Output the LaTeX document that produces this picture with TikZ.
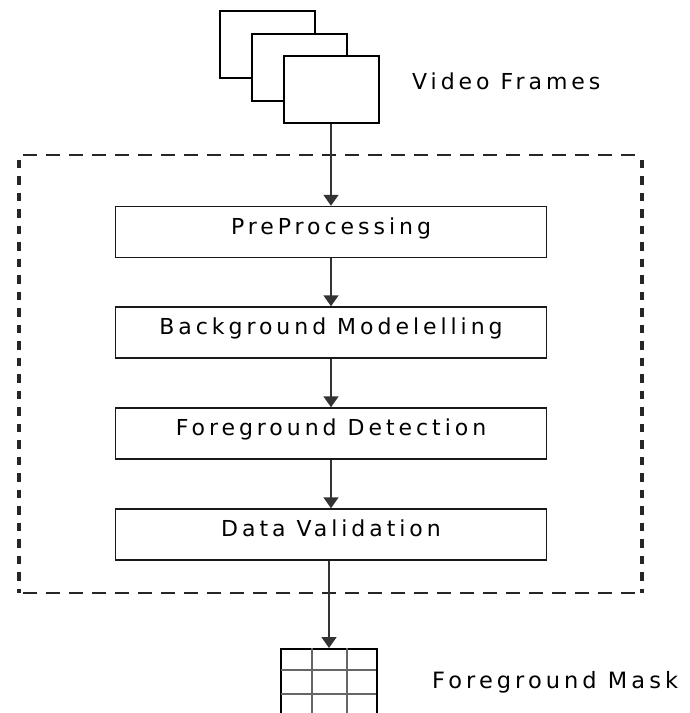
\documentclass[tikz,border=0pt]{standalone}
\usepackage{fontspec}
\setmainfont{DejaVu Sans}[LetterSpace=18]
\usetikzlibrary{arrows.meta}
\begin{document}
\begin{tikzpicture}[x=1pt,y=-1pt,
  frame/.style={draw=black,line width=2pt,fill=white,minimum width=95pt,minimum height=67pt,inner sep=0pt},
  stage/.style={draw=black!90,line width=1.5pt,fill=white,minimum width=431pt,minimum height=51pt,inner sep=0pt,
    text height=0.76em,text depth=0.36em,font=\fontsize{22}{26}\selectfont},
  label/.style={anchor=base west,inner sep=0pt,font=\fontsize{22}{26}\selectfont},
  flow/.style={draw=black!80,line width=1.8pt,-{Triangle[length=11pt,width=15pt]}},
  grouph/.style={draw=black!85,line width=2.6pt,dash pattern=on 14pt off 9pt},
  groupv/.style={draw=black!85,line width=3.4pt,dash pattern=on 8.5pt off 8pt}
]
\useasboundingbox (0,0) rectangle (689,713);
\clip (0,0) rectangle (689,713);
% video frames
\node[frame] (f1) at (267,44.5) {};
\node[frame] (f2) at (299,67.5) {};
\node[frame] (f3) at (331,89.5) {};
\node[label] (vf) at (412,89.5) {Video Frames};
% dashed group
\coordinate (gtl) at (19,155);
\coordinate (gtr) at (642,155);
\coordinate (gbl) at (19,593);
\coordinate (gbr) at (642,593);
\draw[grouph,dash phase=19pt] (gtl) -- (gtr);
\draw[grouph,dash phase=19pt] (gbl) -- (gbr);
\draw[groupv,dash phase=12pt] (gtl) -- (gbl);
\draw[groupv,dash phase=12pt] (gtr) -- (gbr);
% stages
\node[stage] (pre) at (331,232) {PreProcessing};
\node[stage] (bg) at (331,332.5) {Background Modelelling};
\node[stage] (fg) at (331,433.5) {Foreground Detection};
\node[stage] (dv) at (331,534.5) {Data Validation};
% foreground mask grid
\node[draw=black,line width=1.6pt,fill=white,minimum width=96pt,minimum height=69pt,inner sep=0pt,anchor=north] (mask) at (329,648) {};
\draw[black!60,line width=1.6pt] (312,648) -- (312,717) (347,648) -- (347,717)
  (281,670) -- (377,670) (281,694) -- (377,694);
\draw[black,line width=2.4pt] (377,648) -- (377,717);
\node[label,font=\fontsize{22.5}{26}\selectfont] (fm) at (432,688) {Foreground Mask};
% connectors
\draw[flow] (f3.south) -- (pre.north);
\draw[flow] (pre) -- (bg);
\draw[flow] (bg) -- (fg);
\draw[flow] (fg) -- (dv);
\draw[flow] (dv.south -| mask.north) -- (mask.north);
\end{tikzpicture}
\end{document}
